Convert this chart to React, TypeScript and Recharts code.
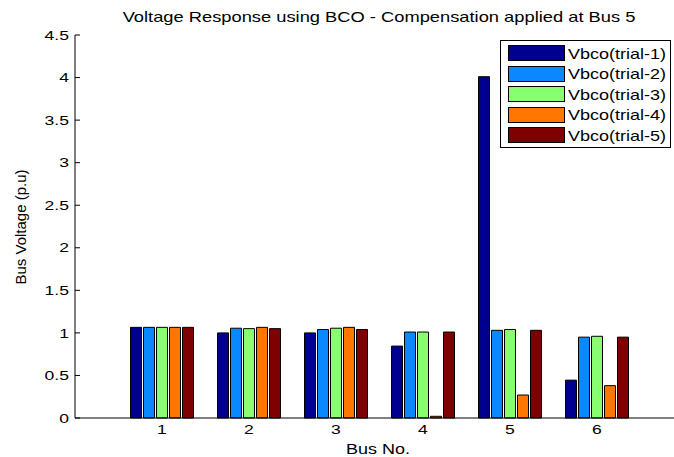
import React from 'react';
import { BarChart, Bar, XAxis, YAxis, Legend } from 'recharts';

// bus voltage per trial
const buses = ['1', '2', '3', '4', '5', '6'];
const trial1 = [1.065, 1.0, 1.0, 0.845, 4.01, 0.445];
const trial2 = [1.065, 1.055, 1.04, 1.01, 1.03, 0.95];
const trial3 = [1.065, 1.05, 1.055, 1.01, 1.04, 0.96];
const trial4 = [1.065, 1.065, 1.065, 0.02, 0.27, 0.38];
const trial5 = [1.065, 1.05, 1.04, 1.01, 1.03, 0.95];
const yTicks = [0, 0.5, 1, 1.5, 2, 2.5, 3, 3.5, 4, 4.5];

const series = [
  { key: 't1', name: 'Vbco(trial-1)', color: '#00008f' },
  { key: 't2', name: 'Vbco(trial-2)', color: '#0a88ff' },
  { key: 't3', name: 'Vbco(trial-3)', color: '#88ff70' },
  { key: 't4', name: 'Vbco(trial-4)', color: '#ff7700' },
  { key: 't5', name: 'Vbco(trial-5)', color: '#7f0000' },
];

const data = buses.map((bus, i) => ({
  bus,
  t1: trial1[i],
  t2: trial2[i],
  t3: trial3[i],
  t4: trial4[i],
  t5: trial5[i],
}));

const font = 'Arial, "Liberation Sans", sans-serif';
const stretch = 1.35; // the source picture is widened horizontally

const YTick = (props: any) => {
  const { x, y, payload } = props;
  return (
    <g transform={`translate(${x},${y})`}>
      <text
        transform={`scale(${stretch},1)`}
        textAnchor="end"
        dy="0.36em"
        fontSize={13}
        fontFamily={font}
        fill="#000"
      >
        {payload.value}
      </text>
    </g>
  );
};

const XTick = (props: any) => {
  const { x, y, payload } = props;
  return (
    <g transform={`translate(${x},${y})`}>
      <text
        transform={`scale(${stretch},1)`}
        textAnchor="middle"
        dy="0.71em"
        fontSize={13}
        fontFamily={font}
        fill="#000"
      >
        {payload.value}
      </text>
    </g>
  );
};

const LegendBox = (props: any) => {
  const { payload } = props;
  return (
    <div
      style={{
        border: '1px solid #000',
        background: '#fff',
        padding: '2px 0 1px 7px',
        width: 162,
        fontFamily: font,
        fontSize: 15,
      }}
    >
      {(payload || []).map((p: any) => (
        <div key={p.value} style={{ display: 'flex', alignItems: 'center', height: 20.5 }}>
          <span
            style={{
              display: 'inline-block',
              width: 55,
              height: 14,
              background: p.color,
              border: '1px solid #000',
              marginRight: 3,
              flex: 'none',
            }}
          />
          <span
            style={{
              color: '#000',
              display: 'inline-block',
              transform: 'scaleX(1.2)',
              transformOrigin: 'left center',
              whiteSpace: 'nowrap',
            }}
          >
            {p.value}
          </span>
        </div>
      ))}
    </div>
  );
};

const App: React.FC = () => {
  return (
    <div
      style={{
        position: 'fixed',
        left: 0,
        top: 0,
        width: 674,
        height: 457,
        overflow: 'hidden',
        background: '#fff',
        fontFamily: font,
      }}
    >
      <div
        style={{
          position: 'absolute',
          left: 379,
          top: 8,
          transform: 'translateX(-50%) scaleX(1.22)',
          whiteSpace: 'nowrap',
          fontSize: 15,
          color: '#000',
        }}
      >
        Voltage Response using BCO - Compensation applied at Bus 5
      </div>
      <div
        style={{
          position: 'absolute',
          left: 20,
          top: 227,
          transform: 'translate(-50%, -50%) rotate(-90deg)',
          whiteSpace: 'nowrap',
          fontSize: 15,
          color: '#000',
        }}
      >
        Bus Voltage (p.u)
      </div>
      <div
        style={{
          position: 'absolute',
          left: 378,
          top: 440,
          transform: 'translateX(-50%) scaleX(1.2)',
          whiteSpace: 'nowrap',
          fontSize: 15,
          color: '#000',
        }}
      >
        Bus No.
      </div>
      <BarChart
        width={700}
        height={457}
        data={data}
        margin={{ top: 35, right: 16, left: 0, bottom: 0 }}
        barSize={11}
        barGap={2}
        style={{ position: 'absolute', left: 0, top: 0 }}
      >
        <XAxis
          dataKey="bus"
          height={39}
          padding={{ left: 43.5, right: 43.5 }}
          tickLine={false}
          tickSize={0}
          tickMargin={7}
          axisLine={{ stroke: '#000' }}
          tick={<XTick />}
        />
        <XAxis
          xAxisId="top"
          dataKey="bus"
          orientation="top"
          height={0}
          mirror
          padding={{ left: 43.5, right: 43.5 }}
          tickSize={5}
          tickLine={{ stroke: '#000' }}
          axisLine={{ stroke: '#000' }}
          tickFormatter={() => ''}
        />
        <YAxis
          width={75}
          domain={[0, 4.5]}
          ticks={yTicks}
          interval={0}
          tickSize={-5}
          tickMargin={11}
          tickLine={{ stroke: '#000' }}
          axisLine={{ stroke: '#000' }}
          tick={<YTick />}
        />
        <Legend
          layout="vertical"
          verticalAlign="middle"
          align="center"
          content={<LegendBox />}
          wrapperStyle={{ position: 'absolute', left: 500, top: 40, width: 175 }}
        />
        {series.map((s) => (
          <Bar
            key={s.key}
            dataKey={s.key}
            name={s.name}
            fill={s.color}
            stroke="#000"
            strokeWidth={1}
            isAnimationActive={false}
          />
        ))}
      </BarChart>
    </div>
  );
};

export default App;
